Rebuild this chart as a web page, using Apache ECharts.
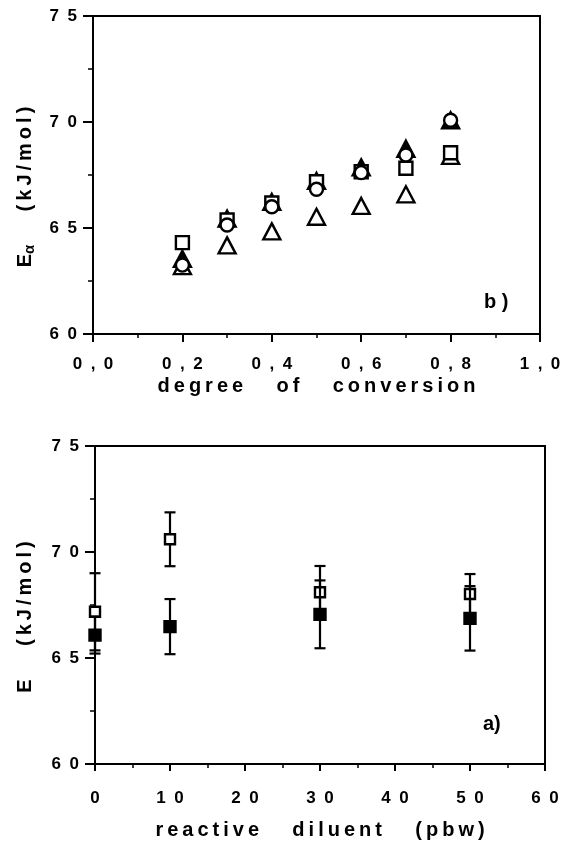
<!DOCTYPE html>
<html>
<head>
<meta charset="utf-8">
<script src="https://cdn.jsdelivr.net/npm/echarts@6/dist/echarts.min.js"></script>
<style>
  html, body { margin: 0; padding: 0; background: #fff; }
  #chart { width: 565px; height: 841px; }
</style>
</head>
<body>
<div id="chart"></div>
<script>
// panel b) activation energy vs degree of conversion
const conversion = [0.2, 0.3, 0.4, 0.5, 0.6, 0.7, 0.8];
const openSquareB = [64.31, 65.38, 66.18, 67.18, 67.65, 67.82, 68.55];
const openCircleB = [63.25, 65.14, 66.0, 66.83, 67.61, 68.44, 70.08];
const filledTriangleB = [63.54, 65.44, 66.23, 67.22, 67.86, 68.74, 70.08];
const openTriangleB = [63.2, 64.18, 64.84, 65.53, 66.04, 66.59, 68.4];

// panel a) activation energy vs reactive diluent
const diluent = [0, 10, 30, 50];
const openSquareA = [67.18, 70.6, 68.1, 68.02];
const openErrA = [1.82, 1.27, 1.24, 0.94];
const filledSquareA = [66.08, 66.48, 67.06, 66.87];
const filledErrA = [0.87, 1.3, 1.6, 1.52];

const yTickLabels = ["60", "65", "70", "75"];
const xTickLabelsB = ["0,0", "0,2", "0,4", "0,6", "0,8", "1,0"];
const xTickLabelsA = ["0", "10", "20", "30", "40", "50", "60"];

const FONT = "'Liberation Sans', Arial, sans-serif";
const THIN = "\u2009";

// spread characters the way the typeset figure does
function spaced(text, letterGap, wordGap) {
  return text.split(" ").map((w) => w.split("").join(letterGap)).join(wordGap);
}
const tickGap = "\u2002";
const wordGap = "      ";

function tickLabel(labels, start, step) {
  return (v) => {
    const i = Math.round((v - start) / step);
    return labels[i] !== undefined ? spaced(labels[i], tickGap, tickGap) : "";
  };
}

const labelStyle = { color: "#000", fontFamily: FONT, fontWeight: "bold", fontSize: 17 };
const nameStyle = { color: "#000", fontFamily: FONT, fontWeight: "bold", fontSize: 20 };

function yAxis(gridIndex, nameText, sub, nameGap) {
  return {
    type: "value", gridIndex, min: 60, max: 75, interval: 5,
    name: "{e|E}" + (sub ? "{s|" + sub + "}" : "{s|}") + wordGap + "{t|" + spaced(nameText, THIN, THIN) + "}",
    nameLocation: "middle", nameRotate: 90, nameGap,
    nameTextStyle: {
      ...nameStyle,
      padding: [0, 24, 0, 0],
      rich: {
        e: { ...nameStyle },
        s: { ...nameStyle, fontSize: 15, verticalAlign: "bottom", padding: [8, 0, 0, 0] },
        t: { ...nameStyle },
      },
    },
    axisLine: { show: true, lineStyle: { color: "#000", width: 2 } },
    axisTick: { length: 10, lineStyle: { color: "#000", width: 2 } },
    minorTick: { show: true, splitNumber: 2, length: 5, lineStyle: { color: "#000", width: 1.5 } },
    axisLabel: { ...labelStyle, margin: 16, formatter: tickLabel(yTickLabels, 60, 5) },
    splitLine: { show: false },
    minorSplitLine: { show: false },
  };
}

function xAxis(gridIndex, max, interval, labels, nameText, nameGap, labelMargin, tickLen) {
  return {
    type: "value", gridIndex, min: 0, max, interval,
    name: spaced(nameText, THIN, wordGap),
    nameLocation: "middle", nameGap,
    nameTextStyle: { ...nameStyle },
    axisLine: { show: true, lineStyle: { color: "#000", width: 2 } },
    axisTick: { length: tickLen, lineStyle: { color: "#000", width: 2 } },
    minorTick: { show: true, splitNumber: 2, length: 4, lineStyle: { color: "#000", width: 1.5 } },
    axisLabel: { ...labelStyle, margin: labelMargin, formatter: tickLabel(labels, 0, interval) },
    splitLine: { show: false },
    minorSplitLine: { show: false },
  };
}

function errorBars(xs, ys, errs, z) {
  return {
    type: "custom",
    xAxisIndex: 1, yAxisIndex: 1, z, clip: false, silent: true,
    data: xs.map((x, i) => [x, ys[i] - errs[i], ys[i] + errs[i]]),
    renderItem(params, api) {
      const lo = api.coord([api.value(0), api.value(1)]);
      const hi = api.coord([api.value(0), api.value(2)]);
      const w = 5.5;
      const style = { stroke: "#000", lineWidth: 2.2 };
      return {
        type: "group",
        children: [
          { type: "line", shape: { x1: lo[0], y1: lo[1], x2: hi[0], y2: hi[1] }, style },
          { type: "line", shape: { x1: lo[0] - w, y1: lo[1], x2: lo[0] + w, y2: lo[1] }, style },
          { type: "line", shape: { x1: hi[0] - w, y1: hi[1], x2: hi[0] + w, y2: hi[1] }, style },
        ],
      };
    },
  };
}

function points(xIndex, xs, ys, symbol, size, filled, z) {
  return {
    type: "scatter", xAxisIndex: xIndex, yAxisIndex: xIndex, z, clip: false, silent: true,
    data: xs.map((x, i) => [x, ys[i]]),
    symbol, symbolSize: size,
    itemStyle: { color: filled ? "#000" : "#fff", borderColor: "#000", borderWidth: 2.4, opacity: 1 },
  };
}

const chart = echarts.init(document.getElementById("chart"), null, { renderer: "canvas" });
chart.setOption({
  animation: false,
  backgroundColor: "#fff",
  grid: [
    { left: 93, top: 16, width: 447, height: 318, show: true, borderColor: "#000", borderWidth: 2, containLabel: false },
    { left: 95, top: 446, width: 450, height: 318, show: true, borderColor: "#000", borderWidth: 2, containLabel: false },
  ],
  xAxis: [
    xAxis(0, 1, 0.2, xTickLabelsB, "degree of conversion", 42, 22, 8),
    xAxis(1, 60, 10, xTickLabelsA, "reactive diluent (pbw)", 56, 26, 7),
  ],
  yAxis: [
    yAxis(0, "(kJ/mol)", "\u03b1", 56),
    yAxis(1, "(kJ/mol)", "", 58),
  ],
  graphic: [
    { type: "text", left: 484, top: 292, style: { text: "b )", fill: "#000", font: "bold 20px " + FONT } },
    { type: "text", left: 483, top: 714, style: { text: "a)", fill: "#000", font: "bold 20px " + FONT } },
  ],
  series: [
    points(0, conversion, openTriangleB, "triangle", [17, 16], false, 2),
    points(0, conversion, filledTriangleB, "triangle", [17, 16], true, 3),
    points(0, conversion, openSquareB, "rect", 13, false, 4),
    points(0, conversion, openCircleB, "circle", 13, false, 5),
    errorBars(diluent, openSquareA, openErrA, 2),
    points(1, diluent, openSquareA, "rect", 10, false, 3),
    errorBars(diluent, filledSquareA, filledErrA, 4),
    points(1, diluent, filledSquareA, "rect", 11, true, 5),
  ],
});
</script>
</body>
</html>
